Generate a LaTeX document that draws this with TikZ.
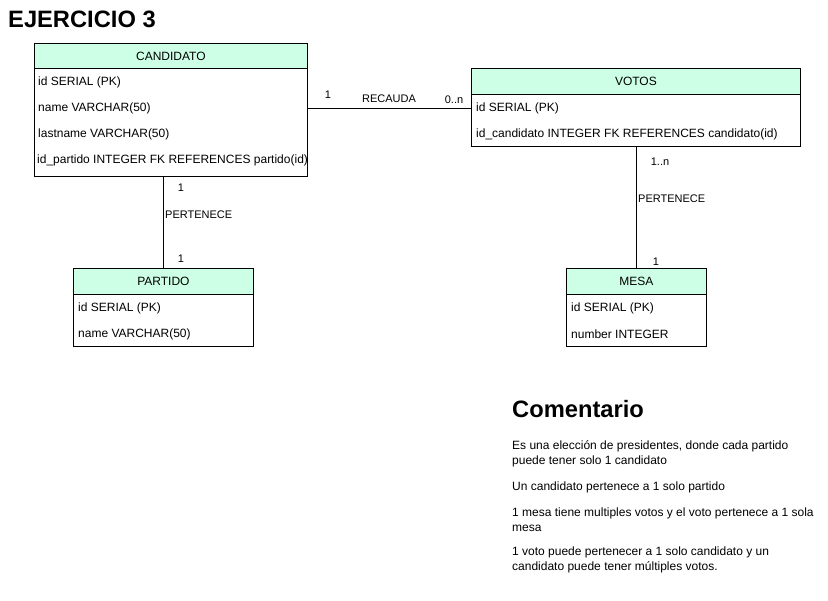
\documentclass[tikz,border=0pt]{standalone}
\usepackage{fontspec}
\setmainfont{Liberation Sans}
\definecolor{verde}{HTML}{CCFFE6}
\begin{document}
\begin{tikzpicture}[x=1pt,y=-1pt]
        \tikzstyle{cabecera}=[draw,fill=verde,line width=0.8pt,anchor=north west,inner sep=0pt,font=\fontsize{12}{14}\selectfont]
        \tikzstyle{cuerpo}=[draw,fill=white,line width=0.8pt,anchor=north west,inner sep=0pt]
        \tikzstyle{fila}=[anchor=west,inner sep=0pt,font=\fontsize{12}{14}\selectfont]
        \tikzstyle{etiqueta}=[inner sep=0pt,font=\fontsize{11}{13}\selectfont]
        \tikzstyle{titulo}=[anchor=west,inner sep=0pt,font=\fontsize{23.7}{28}\selectfont\bfseries]
        \tikzstyle{parrafo}=[anchor=west,inner sep=0pt,align=left,font=\fontsize{12}{14.8}\selectfont]
        \useasboundingbox (0,0) rectangle (828,601);
        \node[titulo] (titulo) at (8,19) {EJERCICIO 3};
        % tablas
        \node[cabecera,minimum width=273pt,minimum height=25pt] (candidato) at (34,43) {CANDIDATO};
        \node[cuerpo,minimum width=273pt,minimum height=108pt] (candidatoB) at (34,68) {};
        \node[fila] (c1) at (38,82) {id SERIAL (PK)};
        \node[fila] (c2) at (38,108) {name VARCHAR(50)};
        \node[fila] (c3) at (38,134) {lastname VARCHAR(50)};
        \node[fila] (c4) at (37,160) {id\_partido INTEGER FK REFERENCES partido(id)};
        \node[cabecera,minimum width=329pt,minimum height=26pt] (votos) at (471,68) {VOTOS};
        \node[cuerpo,minimum width=329pt,minimum height=52pt] (votosB) at (471,94) {};
        \node[fila] (v1) at (476,108) {id SERIAL (PK)};
        \node[fila] (v2) at (476,134) {id\_candidato INTEGER FK REFERENCES candidato(id)};
        \node[cabecera,minimum width=180pt,minimum height=26pt] (partido) at (73,268) {PARTIDO};
        \node[cuerpo,minimum width=180pt,minimum height=52pt] (partidoB) at (73,294) {};
        \node[fila] (p1) at (78,308) {id SERIAL (PK)};
        \node[fila] (p2) at (78,334) {name VARCHAR(50)};
        \node[cabecera,minimum width=140pt,minimum height=26pt] (mesa) at (566,268) {MESA};
        \node[cuerpo,minimum width=140pt,minimum height=52pt] (mesaB) at (566,294) {};
        \node[fila] (m1) at (571,308) {id SERIAL (PK)};
        \node[fila] (m2) at (571,334) {number INTEGER};
        % relaciones
        \draw[line width=0.8pt] (candidatoB.east |- c2) -- (votosB.west |- c2);
        \draw[line width=0.8pt] (candidatoB.south -| partido.north) -- (partido.north);
        \draw[line width=0.8pt] (votosB.south -| mesa.north) -- (mesa.north);
        \node[etiqueta] (r1) at (328,95) {1};
        \node[etiqueta] (r2) at (389,99) {RECAUDA};
        \node[etiqueta] (r3) at (454,100) {0..n};
        \node[etiqueta] (q1) at (181,188) {1};
        \node[etiqueta,anchor=west] (q2) at (165,215) {PERTENECE};
        \node[etiqueta] (q3) at (181,259) {1};
        \node[etiqueta] (s1) at (660,162) {1..n};
        \node[etiqueta,anchor=west] (s2) at (638,199) {PERTENECE};
        \node[etiqueta] (s3) at (656,262) {1};
        % comentario
        \node[titulo] (comentario) at (512,409) {Comentario};
        \node[parrafo] (t1) at (512,454) {Es una elección de presidentes, donde cada partido\\puede tener solo 1 candidato};
        \node[parrafo] (t2) at (512,487) {Un candidato pertenece a 1 solo partido};
        \node[parrafo] (t3) at (512,520) {1 mesa tiene multiples votos y el voto pertenece a 1 sola\\mesa};
        \node[parrafo] (t4) at (512,560) {1 voto puede pertenecer a 1 solo candidato y un\\candidato puede tener múltiples votos.};
    \end{tikzpicture}
\end{document}
